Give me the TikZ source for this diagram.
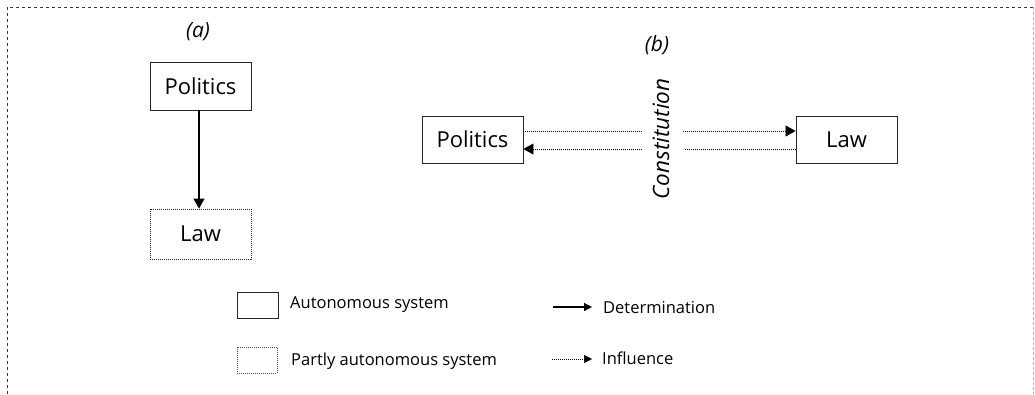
\documentclass[tikz,border=0pt]{standalone}
\usepackage{fontspec}
\setmainfont{Open Sans}
\usetikzlibrary{arrows.meta}
\begin{document}
\begin{tikzpicture}[x=1pt,y=-1pt,
  autobox/.style={draw=black!85,line width=0.9pt,minimum width=101pt,minimum height=48pt,inner sep=0pt,font=\fontsize{22}{26}\selectfont},
  partbox/.style={draw=black!85,line width=0.8pt,dash pattern=on 1pt off 1pt,minimum width=101pt,minimum height=50pt,inner sep=0pt,font=\fontsize{22}{26}\selectfont},
  det/.style={line width=1.3pt,-{Triangle[length=10pt,width=11pt]}},
  infl/.style={line width=0.8pt,dash pattern=on 1pt off 1pt},
  inflarr/.style={infl,-{Triangle[length=10pt,width=11pt]}},
  lab/.style={font=\fontsize{21}{25}\selectfont\itshape},
  legtext/.style={font=\fontsize{16.5}{20}\selectfont,anchor=west,inner sep=0pt}
]
\useasboundingbox (0,0) rectangle (1035,394);
% frame
\draw[black!80,line width=0.8pt,dash pattern=on 3pt off 3pt] (7,394) -- (7,7) -- (1035,7);
\draw[black!30,line width=0.8pt,dash pattern=on 3pt off 2pt] (1033.5,7) -- (1033.5,394);

% (a)
\node[lab] (la) at (198,32) {(a)};
\node[autobox] (Pa) at (200.5,86) {Politics};
\node[partbox] (La) at (200.5,234) {Law};
\draw[det] (Pa.south -| 199,0) -- (La.north -| 199,0);

% (b)
\node[lab] (lb) at (657,45) {(b)};
\node[autobox,minimum height=47pt] (Pb) at (472.5,139.5) {Politics};
\node[autobox,minimum height=47pt] (Lb) at (846.5,139.5) {Law};
\node[rotate=90,font=\fontsize{22.5}{26}\selectfont\itshape,inner sep=0pt] (con) at (661,139) {Constitution};
\coordinate (u1) at (642,131);
\coordinate (u2) at (683,131);
\coordinate (l1) at (684,149);
\coordinate (l2) at (642,149);
\draw[infl] (Pb.east |- u1) -- (u1);
\draw[inflarr] (u2) -- (Lb.west |- u2);
\draw[infl] (Lb.west |- l1) -- (l1);
\draw[inflarr] (l2) -- (Pb.east |- l2);

% legend
\node[draw=black!85,line width=0.9pt,minimum width=41pt,minimum height=26pt,inner sep=0pt] (k1) at (257.5,305) {};
\node[legtext] (t1) at (290,305) {Autonomous system};
\node[draw=black!70,line width=0.7pt,dash pattern=on 1pt off 1pt,minimum width=40pt,minimum height=26pt,inner sep=0pt] (k2) at (257,360) {};
\node[legtext] (t2) at (291,361) {Partly autonomous system};
\coordinate (d1) at (553,307);
\node[legtext,inner xsep=0pt] (t3) at (603,308) {Determination};
\coordinate (d2) at (592,307);
\draw[line width=1.2pt,-{Triangle[length=8pt,width=8pt]}] (d1) -- (d2);
\coordinate (i1) at (552,359);
\coordinate (i2) at (592,359);
\node[legtext] (t4) at (602,358) {Influence};
\draw[line width=0.7pt,dash pattern=on 1pt off 1pt,-{Triangle[length=8pt,width=8pt]}] (i1) -- (i2);
\end{tikzpicture}
\end{document}
